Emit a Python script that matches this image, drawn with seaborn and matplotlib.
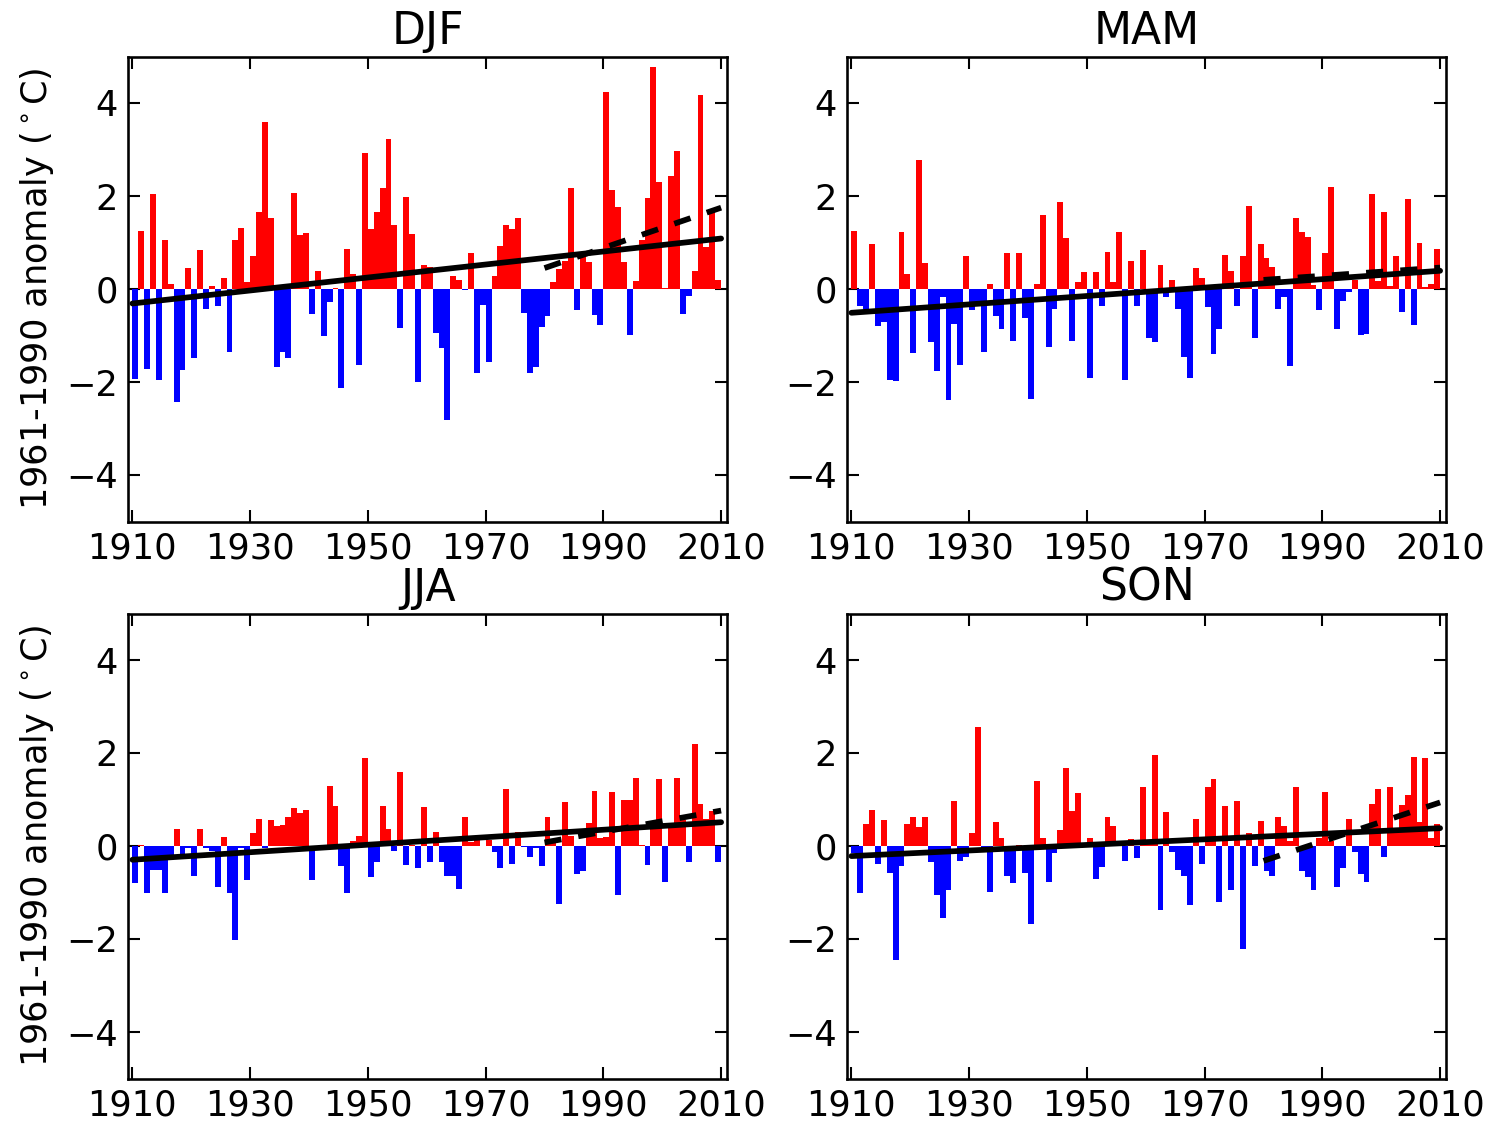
import numpy as np
import pandas as pd
import matplotlib
matplotlib.use("Agg")
import matplotlib.pyplot as plt
import seaborn as sns

# ---------------- data ----------------
years = list(range(1910, 2010))
seasons = ["DJF", "MAM", "JJA", "SON"]

djf = [-1.93, 1.24, -1.71, 2.04, -1.96, 1.06, 0.10, -2.43, -1.74, 0.45,
       -1.48, 0.83, -0.43, 0.07, -0.37, 0.23, -1.35, 1.06, 1.31, 0.14,
       0.70, 1.66, 3.60, 1.53, -1.67, -1.36, -1.48, 2.07, 1.16, 1.21,
       -0.53, 0.39, -1.00, -0.27, 0.02, -2.12, 0.86, 0.32, -1.64, 2.93,
       1.28, 1.66, 2.17, 3.22, 1.38, -0.84, 1.98, 1.19, -1.99, 0.52,
       0.48, -0.94, -1.26, -2.81, 0.29, 0.19, -0.02, 0.78, -1.80, -0.34,
       -1.58, 0.29, 0.93, 1.38, 1.28, 1.53, -0.52, -1.80, -1.67, -0.82,
       -0.57, 0.14, 0.42, 0.60, 2.17, -0.46, 0.69, 0.59, -0.56, -0.78,
       4.24, 2.13, 1.76, 0.59, -0.98, 0.17, 1.06, 1.95, 4.78, 2.30,
       0.02, 2.42, 2.96, -0.53, -0.14, 0.39, 4.17, 0.90, 1.72, 0.19]

mam = [1.25, -0.36, -0.42, 0.96, -0.80, -0.72, -1.95, -1.97, 1.22, 0.33,
       -1.37, 2.77, 0.55, -1.15, -1.76, -0.17, -2.39, -0.76, -1.63, 0.71,
       -0.45, -0.30, -1.35, 0.10, -0.57, -0.86, 0.77, -1.12, 0.77, -0.62,
       -2.36, 0.10, 1.59, -1.24, -0.42, 1.88, 1.09, -1.12, 0.14, 0.36,
       -1.91, 0.36, -0.36, 0.80, 0.14, 1.22, -1.95, 0.61, -0.36, 0.84,
       -1.06, -1.15, 0.52, -0.17, 0.20, -0.42, -1.47, -1.91, 0.45, 0.24,
       -0.39, -1.40, -0.87, 0.74, 0.39, -0.36, 0.71, 1.78, -1.06, 0.96,
       0.67, 0.47, -0.43, -0.17, -1.66, 1.53, 1.22, 1.12, 0.09, -0.45,
       0.77, 2.20, -0.87, -0.26, -0.07, 0.19, -0.99, -0.97, 2.04, 0.17,
       1.66, 0.06, 0.71, -0.49, 1.94, -0.77, 0.99, 0.05, 0.10, 0.87]

jja = [-0.79, 0.03, -1.02, -0.51, -0.51, -1.02, -0.28, 0.37, -0.26, -0.05,
       -0.64, 0.37, -0.05, -0.10, -0.89, 0.20, -1.02, -2.03, -0.05, -0.73,
       0.27, 0.59, -0.05, 0.55, 0.44, 0.46, 0.62, 0.81, 0.72, 0.78,
       -0.73, -0.03, -0.09, 1.29, 0.87, -0.44, -1.02, 0.11, 0.21, 1.89,
       -0.67, -0.35, 0.87, 0.37, -0.10, 1.60, -0.41, 0.03, -0.47, 0.84,
       -0.35, 0.31, -0.35, -0.64, -0.64, -0.92, 0.62, 0.09, 0.13, -0.01,
       0.13, -0.13, -0.47, 1.22, -0.38, 0.31, -0.02, -0.23, -0.05, -0.44,
       0.62, 0.09, -1.24, 0.94, 0.21, -0.60, -0.54, 0.49, 1.19, 0.18,
       0.20, 1.17, -1.05, 1.00, 1.00, 1.47, 0.03, -0.41, 0.53, 1.45,
       -0.77, 0.49, 1.47, 0.56, -0.35, 2.20, 0.91, 0.59, 0.75, -0.35]

son = [-0.16, -1.02, 0.47, 0.78, -0.39, 0.56, -0.57, -2.45, -0.42, 0.47,
       0.62, 0.40, 0.62, -0.35, -1.05, -1.55, -0.95, 0.97, -0.32, -0.23,
       0.27, 2.56, -0.05, -0.99, 0.52, 0.18, -0.64, -0.79, 0.03, -0.57,
       -1.67, 1.39, 0.18, -0.77, -0.14, 0.34, 1.67, 0.75, 1.13, 0.03,
       0.18, -0.70, -0.45, 0.62, 0.44, 0.03, -0.32, 0.15, -0.26, 1.26,
       0.10, 1.95, -1.37, 0.74, -0.13, -0.52, -0.64, -1.27, 0.59, -0.39,
       1.26, 1.45, -1.21, 0.85, -0.95, 0.97, -2.22, 0.27, -0.42, 0.53,
       -0.54, -0.64, 0.62, 0.44, 0.10, 1.26, -0.54, -0.67, -0.95, 0.18,
       1.17, 0.10, -0.89, -0.48, 0.59, -0.13, -0.61, -0.77, 0.91, 1.22,
       -0.23, 1.26, 0.27, 0.88, 1.10, 1.92, 0.52, 1.89, 0.18, 0.47]

recent_start = 1980
xticks = [1910, 1930, 1950, 1970, 1990, 2010]
yticks = [-4, -2, 0, 2, 4]
ylabel = "1961-1990 anomaly ($^\\circ$C)"

values = {"DJF": djf, "MAM": mam, "JJA": jja, "SON": son}

# ---------------- style ----------------
sns.set_theme(style="ticks", rc={
    "xtick.direction": "in", "ytick.direction": "in",
    "xtick.top": True, "ytick.right": True,
    "xtick.major.size": 4.5, "ytick.major.size": 4.5,
    "xtick.major.width": 0.8, "ytick.major.width": 0.8,
    "xtick.major.pad": 4, "ytick.major.pad": 4,
    "axes.linewidth": 1.0, "axes.edgecolor": "black",
    "xtick.color": "black", "ytick.color": "black",
    "text.color": "black", "axes.labelcolor": "black",
    "axes.titlepad": 5,
})
plt.rcParams["font.family"] = ["DejaVu Sans"]
plt.rcParams["mathtext.fontset"] = "dejavusans"

W, H = 1496, 1122
fig = plt.figure(figsize=(8, 6), dpi=187)

lefts = [128.3, 847.3]
bottoms = [521.5, 1078.5]
aw, ah = 599.0, 465.0

for i, s in enumerate(seasons):
    r, c = divmod(i, 2)
    ax = fig.add_axes([lefts[c] / W, 1 - bottoms[r] / H, aw / W, ah / H])
    df = pd.DataFrame({"year": years, "anom": values[s]})
    cols = np.where(df["anom"] >= 0, "#ff0000", "#0000ff")
    ax.bar(df["year"], df["anom"], width=1.0, align="edge", color=cols,
           linewidth=0)

    # full-period linear trend
    p = np.polyfit(df["year"], df["anom"], 1)
    xs = np.array([df["year"].iloc[0], df["year"].iloc[-1] + 1])
    sns.lineplot(x=xs, y=np.polyval(p, xs), ax=ax, color="black", lw=2.2)

    # recent-period trend
    rec = df[df["year"] >= recent_start]
    p2 = np.polyfit(rec["year"], rec["anom"], 1)
    xs2 = np.array([rec["year"].iloc[0], rec["year"].iloc[-1] + 1])
    sns.lineplot(x=xs2, y=np.polyval(p2, xs2), ax=ax, color="black", lw=2.2,
                 linestyle=(0, (3, 3)))

    ax.set_xlim(1909.3, 2011.05)
    ax.set_ylim(-5, 5)
    ax.set_xticks(xticks)
    ax.set_yticks(yticks)
    ax.tick_params(labelsize=13.5, colors="black")
    ax.set_title(s, fontsize=17, color="black")
    if c == 0:
        ax.set_ylabel(ylabel, fontsize=13.5, color="black")
    else:
        ax.set_ylabel("")
    ax.set_xlabel("")

fig.savefig("out.png", dpi=187)
